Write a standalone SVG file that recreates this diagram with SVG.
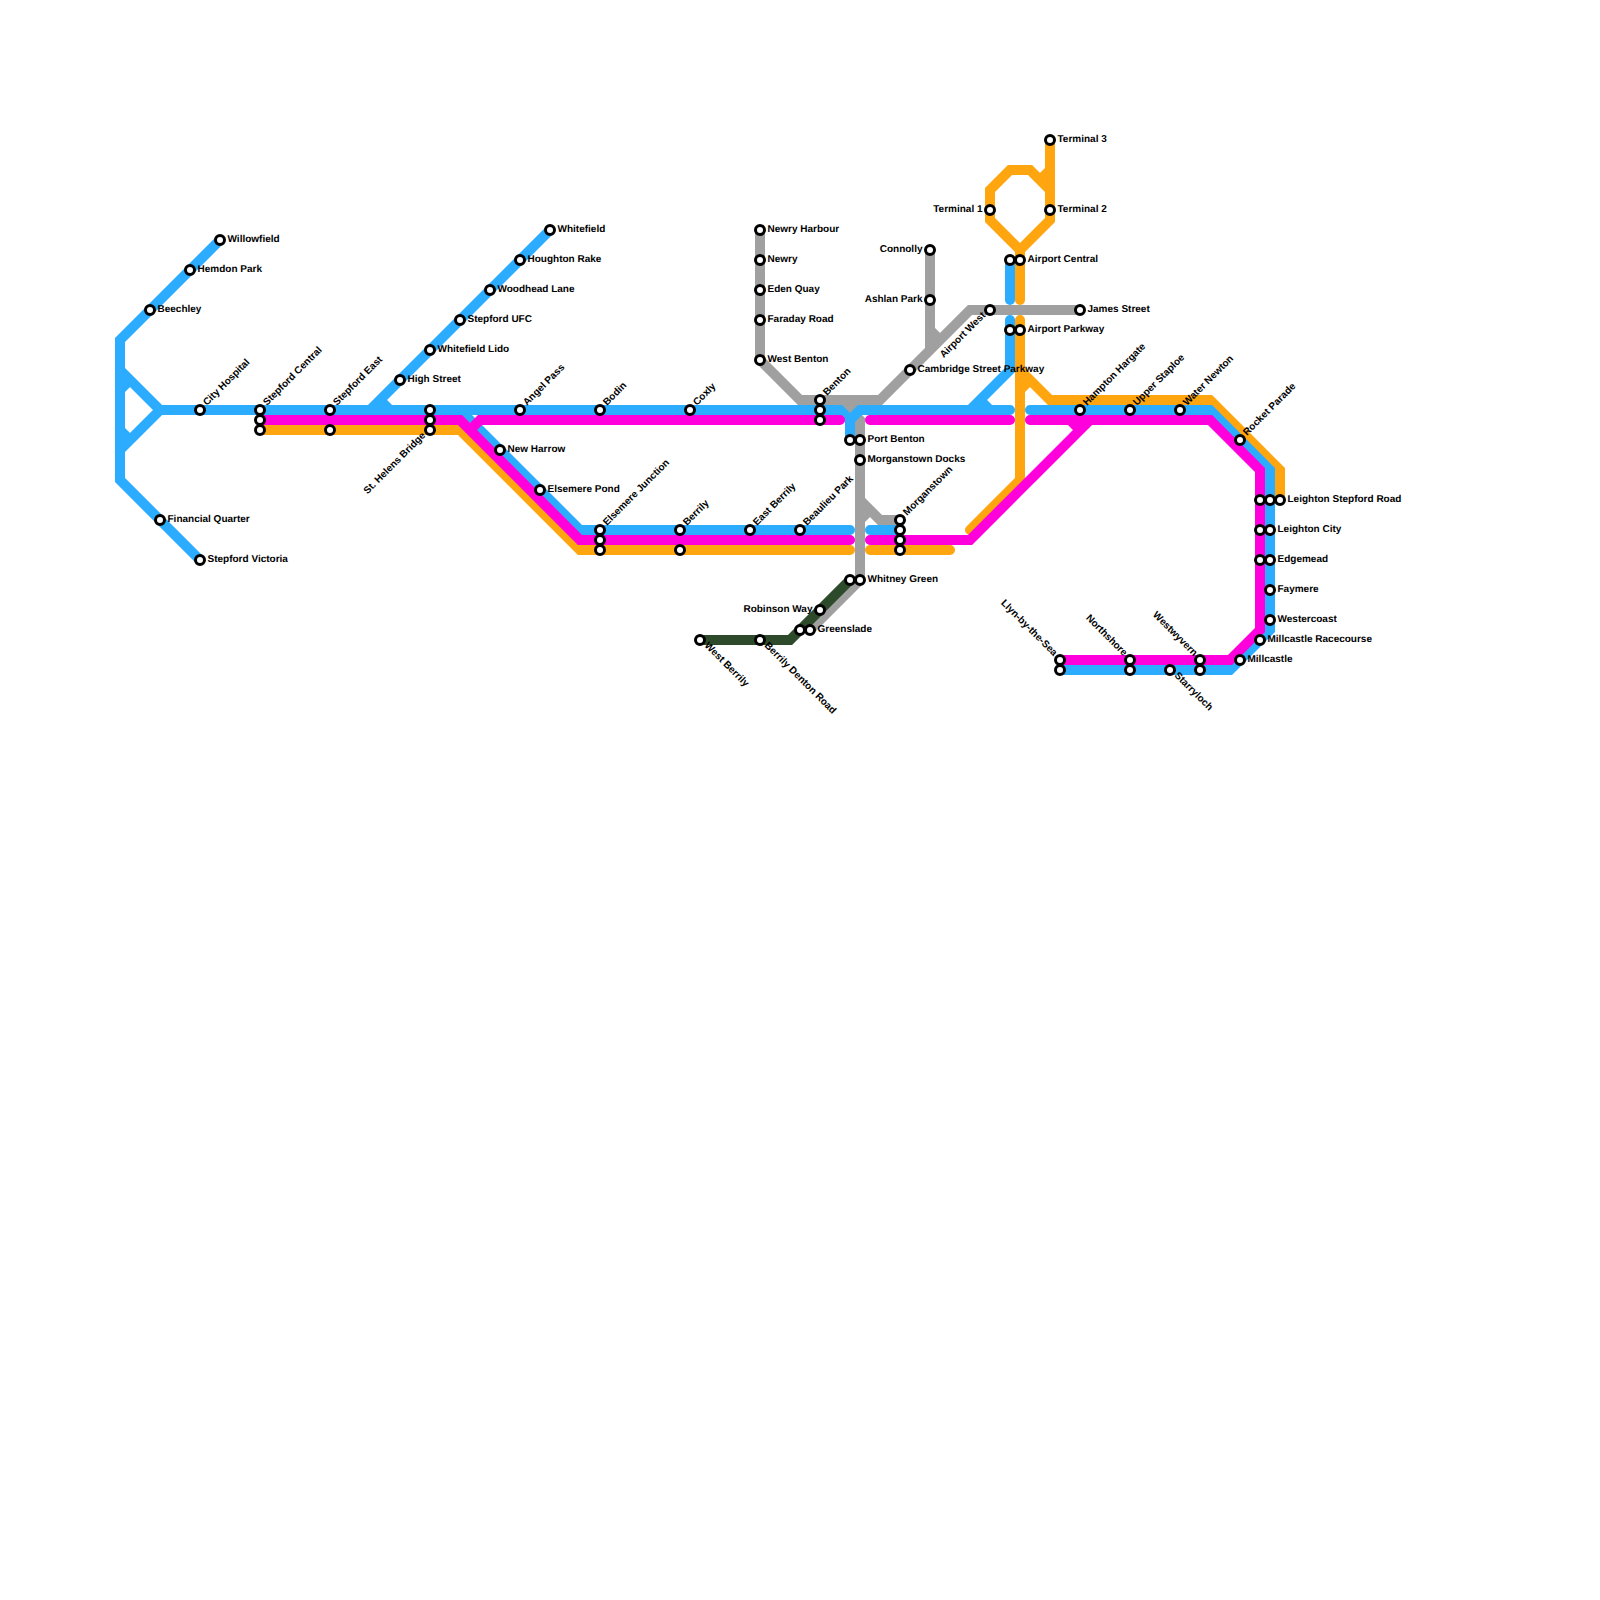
<svg xmlns="http://www.w3.org/2000/svg" width="1600" height="1600" viewBox="0 0 1600 1600">
<style>
text{font-family:"Liberation Sans",Arial,sans-serif;font-size:10px;font-weight:bold;fill:#000;text-rendering:geometricPrecision}
.e{text-anchor:end}
.s{fill:#fff;stroke:#000;stroke-width:3}
.l{fill:none;stroke-width:10;stroke-linecap:round;stroke-linejoin:miter}
.gray{stroke:#a0a0a0}.green{stroke:#2d4a2b}.orange{stroke:#ffa50f}.blue{stroke:#2bacff}.mag{stroke:#ff00dc}
</style>
<rect width="1600" height="1600" fill="#fff"/>
<g id="connectors">
<path class="l gray" d="M760,230V360L800,400H880L970,310H1080M930,250V350M930,330L940,340M840,400L860,420V580L810,630M860,400L850,410M860,500L880,520H900M860,520L870,510"/>
<path class="l green" d="M700,640H790L850,580"/>
<path class="l orange" d="M260,430H460L580,550H850M870,550H950M1050,140V220L1020,250L990,220V190L1010,170H1030L1050,190M1040,180L1050,170M1020,250V300M1020,320V480L970,530M1020,370L1050,400H1210L1280,470V500M1020,390L1030,380"/>
<path class="l blue" d="M220,240L120,340V480L200,560M120,370L160,410L120,450M120,390L130,380M120,430L130,440M160,410H840L850,420V440M850,420L860,410H1010M550,230L370,410M390,410L380,400M460,410L580,530H850M870,530H900M1010,260V300M1010,320V370L970,410M990,410L980,400M1030,410H1210L1270,470V630L1230,670H1060"/>
<path class="l mag" d="M260,420H460L580,540H850M470,430L480,420H840M870,420H1010M870,540H970L1090,420M1070,420L1080,430M1030,420H1210L1260,470V630L1230,660H1060"/>
</g>
<g id="n-willowfield"><circle class="s" cx="220" cy="240" r="4.5"/><text x="227.5" y="242">Willowfield</text></g>
<g id="n-hemdon-park"><circle class="s" cx="190" cy="270" r="4.5"/><text x="197.5" y="272">Hemdon Park</text></g>
<g id="n-beechley"><circle class="s" cx="150" cy="310" r="4.5"/><text x="157.5" y="312">Beechley</text></g>
<g id="n-financial-quarter"><circle class="s" cx="160" cy="520" r="4.5"/><text x="167.5" y="522">Financial Quarter</text></g>
<g id="n-stepford-victoria"><circle class="s" cx="200" cy="560" r="4.5"/><text x="207.5" y="562">Stepford Victoria</text></g>
<g id="n-city-hospital"><circle class="s" cx="200" cy="410" r="4.5"/><text transform="translate(207,406) rotate(-45)">City Hospital</text></g>
<g id="n-stepford-central"><circle class="s" cx="260" cy="410" r="4.5"/><circle class="s" cx="260" cy="420" r="4.5"/><circle class="s" cx="260" cy="430" r="4.5"/><text transform="translate(267,406) rotate(-45)">Stepford Central</text></g>
<g id="n-stepford-east"><circle class="s" cx="330" cy="410" r="4.5"/><circle class="s" cx="330" cy="430" r="4.5"/><text transform="translate(337,406) rotate(-45)">Stepford East</text></g>
<g id="n-high-street"><circle class="s" cx="400" cy="380" r="4.5"/><text x="407.5" y="382">High Street</text></g>
<g id="n-whitefield-lido"><circle class="s" cx="430" cy="350" r="4.5"/><text x="437.5" y="352">Whitefield Lido</text></g>
<g id="n-stepford-ufc"><circle class="s" cx="460" cy="320" r="4.5"/><text x="467.5" y="322">Stepford UFC</text></g>
<g id="n-woodhead-lane"><circle class="s" cx="490" cy="290" r="4.5"/><text x="497.5" y="292">Woodhead Lane</text></g>
<g id="n-houghton-rake"><circle class="s" cx="520" cy="260" r="4.5"/><text x="527.5" y="262">Houghton Rake</text></g>
<g id="n-whitefield"><circle class="s" cx="550" cy="230" r="4.5"/><text x="557.5" y="232">Whitefield</text></g>
<g id="n-st-helens-bridge"><circle class="s" cx="430" cy="410" r="4.5"/><circle class="s" cx="430" cy="420" r="4.5"/><circle class="s" cx="430" cy="430" r="4.5"/><text class="e" transform="translate(426,436) rotate(-45)">St. Helens Bridge</text></g>
<g id="n-angel-pass"><circle class="s" cx="520" cy="410" r="4.5"/><text transform="translate(527,406) rotate(-45)">Angel Pass</text></g>
<g id="n-bodin"><circle class="s" cx="600" cy="410" r="4.5"/><text transform="translate(607,406) rotate(-45)">Bodin</text></g>
<g id="n-coxly"><circle class="s" cx="690" cy="410" r="4.5"/><text transform="translate(697,406) rotate(-45)">Coxly</text></g>
<g id="n-new-harrow"><circle class="s" cx="500" cy="450" r="4.5"/><text x="507.5" y="452">New Harrow</text></g>
<g id="n-elsemere-pond"><circle class="s" cx="540" cy="490" r="4.5"/><text x="547.5" y="492">Elsemere Pond</text></g>
<g id="n-elsemere-junction"><circle class="s" cx="600" cy="530" r="4.5"/><circle class="s" cx="600" cy="540" r="4.5"/><circle class="s" cx="600" cy="550" r="4.5"/><text transform="translate(607,526) rotate(-45)">Elsemere Junction</text></g>
<g id="n-berrily"><circle class="s" cx="680" cy="530" r="4.5"/><circle class="s" cx="680" cy="550" r="4.5"/><text transform="translate(687,526) rotate(-45)">Berrily</text></g>
<g id="n-east-berrily"><circle class="s" cx="750" cy="530" r="4.5"/><text transform="translate(757,526) rotate(-45)">East Berrily</text></g>
<g id="n-beaulieu-park"><circle class="s" cx="800" cy="530" r="4.5"/><text transform="translate(807,526) rotate(-45)">Beaulieu Park</text></g>
<g id="n-newry-harbour"><circle class="s" cx="760" cy="230" r="4.5"/><text x="767.5" y="232">Newry Harbour</text></g>
<g id="n-newry"><circle class="s" cx="760" cy="260" r="4.5"/><text x="767.5" y="262">Newry</text></g>
<g id="n-eden-quay"><circle class="s" cx="760" cy="290" r="4.5"/><text x="767.5" y="292">Eden Quay</text></g>
<g id="n-faraday-road"><circle class="s" cx="760" cy="320" r="4.5"/><text x="767.5" y="322">Faraday Road</text></g>
<g id="n-west-benton"><circle class="s" cx="760" cy="360" r="4.5"/><text x="767.5" y="362">West Benton</text></g>
<g id="n-benton"><circle class="s" cx="820" cy="400" r="4.5"/><circle class="s" cx="820" cy="410" r="4.5"/><circle class="s" cx="820" cy="420" r="4.5"/><text transform="translate(827,396) rotate(-45)">Benton</text></g>
<g id="n-port-benton"><circle class="s" cx="850" cy="440" r="4.5"/><circle class="s" cx="860" cy="440" r="4.5"/><text x="867.5" y="442">Port Benton</text></g>
<g id="n-morganstown-docks"><circle class="s" cx="860" cy="460" r="4.5"/><text x="867.5" y="462">Morganstown Docks</text></g>
<g id="n-morganstown"><circle class="s" cx="900" cy="520" r="4.5"/><circle class="s" cx="900" cy="530" r="4.5"/><circle class="s" cx="900" cy="540" r="4.5"/><circle class="s" cx="900" cy="550" r="4.5"/><text transform="translate(907,516) rotate(-45)">Morganstown</text></g>
<g id="n-whitney-green"><circle class="s" cx="850" cy="580" r="4.5"/><circle class="s" cx="860" cy="580" r="4.5"/><text x="867.5" y="582">Whitney Green</text></g>
<g id="n-robinson-way"><circle class="s" cx="820" cy="610" r="4.5"/><text class="e" x="812.5" y="612">Robinson Way</text></g>
<g id="n-greenslade"><circle class="s" cx="800" cy="630" r="4.5"/><circle class="s" cx="810" cy="630" r="4.5"/><text x="817.5" y="632">Greenslade</text></g>
<g id="n-west-berrily"><circle class="s" cx="700" cy="640" r="4.5"/><text transform="translate(704,646) rotate(45)">West Berrily</text></g>
<g id="n-berrily-denton-road"><circle class="s" cx="760" cy="640" r="4.5"/><text transform="translate(764,646) rotate(45)">Berrily Denton Road</text></g>
<g id="n-cambridge-street-parkway"><circle class="s" cx="910" cy="370" r="4.5"/><text x="917.5" y="372">Cambridge Street Parkway</text></g>
<g id="n-connolly"><circle class="s" cx="930" cy="250" r="4.5"/><text class="e" x="922.5" y="252">Connolly</text></g>
<g id="n-ashlan-park"><circle class="s" cx="930" cy="300" r="4.5"/><text class="e" x="922.5" y="302">Ashlan Park</text></g>
<g id="n-airport-west"><circle class="s" cx="990" cy="310" r="4.5"/><text class="e" transform="translate(986,316) rotate(-45)">Airport West</text></g>
<g id="n-james-street"><circle class="s" cx="1080" cy="310" r="4.5"/><text x="1087.5" y="312">James Street</text></g>
<g id="n-terminal-1"><circle class="s" cx="990" cy="210" r="4.5"/><text class="e" x="982.5" y="212">Terminal 1</text></g>
<g id="n-terminal-2"><circle class="s" cx="1050" cy="210" r="4.5"/><text x="1057.5" y="212">Terminal 2</text></g>
<g id="n-terminal-3"><circle class="s" cx="1050" cy="140" r="4.5"/><text x="1057.5" y="142">Terminal 3</text></g>
<g id="n-airport-central"><circle class="s" cx="1010" cy="260" r="4.5"/><circle class="s" cx="1020" cy="260" r="4.5"/><text x="1027.5" y="262">Airport Central</text></g>
<g id="n-airport-parkway"><circle class="s" cx="1010" cy="330" r="4.5"/><circle class="s" cx="1020" cy="330" r="4.5"/><text x="1027.5" y="332">Airport Parkway</text></g>
<g id="n-hampton-hargate"><circle class="s" cx="1080" cy="410" r="4.5"/><text transform="translate(1087,406) rotate(-45)">Hampton Hargate</text></g>
<g id="n-upper-staploe"><circle class="s" cx="1130" cy="410" r="4.5"/><text transform="translate(1137,406) rotate(-45)">Upper Staploe</text></g>
<g id="n-water-newton"><circle class="s" cx="1180" cy="410" r="4.5"/><text transform="translate(1187,406) rotate(-45)">Water Newton</text></g>
<g id="n-rocket-parade"><circle class="s" cx="1240" cy="440" r="4.5"/><text transform="translate(1247,436) rotate(-45)">Rocket Parade</text></g>
<g id="n-leighton-stepford-road"><circle class="s" cx="1260" cy="500" r="4.5"/><circle class="s" cx="1270" cy="500" r="4.5"/><circle class="s" cx="1280" cy="500" r="4.5"/><text x="1287.5" y="502">Leighton Stepford Road</text></g>
<g id="n-leighton-city"><circle class="s" cx="1260" cy="530" r="4.5"/><circle class="s" cx="1270" cy="530" r="4.5"/><text x="1277.5" y="532">Leighton City</text></g>
<g id="n-edgemead"><circle class="s" cx="1260" cy="560" r="4.5"/><circle class="s" cx="1270" cy="560" r="4.5"/><text x="1277.5" y="562">Edgemead</text></g>
<g id="n-faymere"><circle class="s" cx="1270" cy="590" r="4.5"/><text x="1277.5" y="592">Faymere</text></g>
<g id="n-westercoast"><circle class="s" cx="1270" cy="620" r="4.5"/><text x="1277.5" y="622">Westercoast</text></g>
<g id="n-millcastle-racecourse"><circle class="s" cx="1260" cy="640" r="4.5"/><text x="1267.5" y="642">Millcastle Racecourse</text></g>
<g id="n-millcastle"><circle class="s" cx="1240" cy="660" r="4.5"/><text x="1247.5" y="662">Millcastle</text></g>
<g id="n-westwyvern"><circle class="s" cx="1200" cy="660" r="4.5"/><circle class="s" cx="1200" cy="670" r="4.5"/><text class="e" transform="translate(1193.5,656.5) rotate(45)">Westwyvern</text></g>
<g id="n-starryloch"><circle class="s" cx="1170" cy="670" r="4.5"/><text transform="translate(1174,676) rotate(45)">Starryloch</text></g>
<g id="n-northshore"><circle class="s" cx="1130" cy="660" r="4.5"/><circle class="s" cx="1130" cy="670" r="4.5"/><text class="e" transform="translate(1123.5,656.5) rotate(45)">Northshore</text></g>
<g id="n-llyn-by-the-sea"><circle class="s" cx="1060" cy="660" r="4.5"/><circle class="s" cx="1060" cy="670" r="4.5"/><text class="e" transform="translate(1053.5,656.5) rotate(45)">Llyn-by-the-Sea</text></g>
</svg>
